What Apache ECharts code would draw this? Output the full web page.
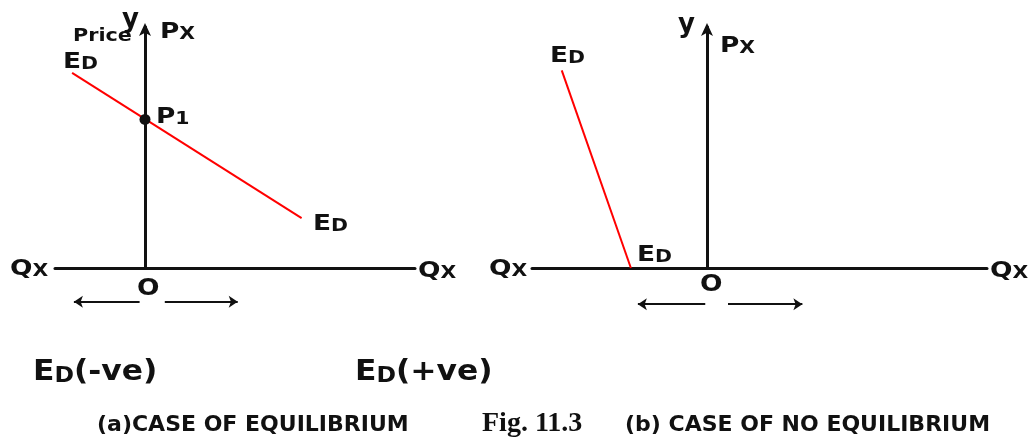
<!DOCTYPE html>
<html>
<head>
<meta charset="utf-8">
<script src="https://cdn.jsdelivr.net/npm/echarts@6/dist/echarts.min.js"></script>
<style>
  html, body { margin: 0; padding: 0; background: #fff; }
  #chart { width: 1032px; height: 443px; }
</style>
</head>
<body>
<div id="chart"></div>
<script>
// panel (a): demand line crossing the price axis
var leftDemand = [[-0.81, 2.43], [1.74, 0.62]];
var leftEquilibrium = [[0, 1.85]];
var leftArrows = [
    [[-0.06, -0.42], [-0.79, -0.42]],
    [[0.22, -0.42], [1.03, -0.42]]
];
// panel (b): demand line never reaching the price axis
var rightDemand = [[-1.66, 2.46], [-0.87, 0]];
var rightArrows = [
    [[-0.02, -0.45], [-0.79, -0.45]],
    [[0.24, -0.45], [1.09, -0.45]]
];

var FONT = '"DejaVu Sans"';

function axisX(idx, min, max) {
    return {
        type: 'value', gridIndex: idx, min: min, max: max,
        axisLine: { onZero: true, lineStyle: { color: '#111', width: 3 } },
        axisTick: { show: false }, axisLabel: { show: false }, splitLine: { show: false }
    };
}
function axisY(idx, min, max) {
    return {
        type: 'value', gridIndex: idx, min: min, max: max,
        axisLine: {
            onZero: true,
            symbol: ['none', 'arrow'],
            symbolSize: [9, 13],
            symbolOffset: [0, 4],
            lineStyle: { color: '#111', width: 3 }
        },
        axisTick: { show: false }, axisLabel: { show: false }, splitLine: { show: false }
    };
}

// letter with a smaller one at its foot (E with D), then optional full-size tail
function label(x, y, main, small, size, sx, tail) {
    size = size || 22;
    var txt = '{m|' + main + '}' + (small ? '{s|' + small + '}' : '') + (tail ? '{m|' + tail + '}' : '');
    return {
        type: 'text', x: x, y: y, scaleX: sx || 1.2,
        style: {
            text: txt,
            verticalAlign: 'top',
            rich: {
                m: { font: 'bold ' + size + 'px ' + FONT, fill: '#111', verticalAlign: 'bottom', lineHeight: size },
                s: { font: 'bold ' + Math.round(size * 0.75) + 'px ' + FONT, fill: '#111', verticalAlign: 'bottom', lineHeight: size }
            }
        }
    };
}
function plain(x, y, text, font, sx) {
    return {
        type: 'text', x: x, y: y, scaleX: sx || 1,
        style: { text: text, font: font, fill: '#111', verticalAlign: 'top' }
    };
}

function arrowSeries(idx, list) {
    return {
        type: 'lines', coordinateSystem: 'cartesian2d',
        xAxisIndex: idx, yAxisIndex: idx, clip: false,
        symbol: ['none', 'arrow'], symbolSize: 9,
        lineStyle: { color: '#111', width: 2, opacity: 1 },
        data: list.map(function (c) { return { coords: c }; }),
        silent: true
    };
}

var chart = echarts.init(document.getElementById('chart'));

var option = {
    backgroundColor: '#fff',
    animation: false,
    grid: [
        { left: 55, width: 360, top: 27, height: 241 },
        { left: 532, width: 455, top: 27, height: 241 }
    ],
    xAxis: [axisX(0, -1, 3), axisX(1, -2, 3.2)],
    yAxis: [axisY(0, 0, 3), axisY(1, 0, 3)],
    series: [
        {
            type: 'line', xAxisIndex: 0, yAxisIndex: 0, data: leftDemand,
            symbol: 'none', lineStyle: { color: '#ff0000', width: 2 }
        },
        {
            type: 'scatter', xAxisIndex: 0, yAxisIndex: 0, data: leftEquilibrium,
            symbolSize: 11, itemStyle: { color: '#111', opacity: 1 }, z: 5
        },
        {
            type: 'line', xAxisIndex: 1, yAxisIndex: 1, data: rightDemand,
            symbol: 'none', lineStyle: { color: '#ff0000', width: 2 }
        },
        arrowSeries(0, leftArrows),
        arrowSeries(1, rightArrows)
    ],
    graphic: [
        // panel (a)
        plain(122, 7, 'y', 'bold 26px ' + FONT),
        plain(73, 28, 'Price', 'bold 17px ' + FONT, 1.22),
        label(160, 21, 'P', 'X'),
        label(63, 51, 'E', 'D'),
        label(156, 106, 'P', '1'),
        label(313, 213, 'E', 'D'),
        label(10, 258, 'Q', 'X'),
        label(418, 260, 'Q', 'X'),
        label(137, 278, 'O', '', 23, 1.15),
        // panel (b)
        plain(678, 12, 'y', 'bold 26px ' + FONT),
        label(720, 35, 'P', 'X'),
        label(550, 45, 'E', 'D'),
        label(637, 244, 'E', 'D'),
        label(489, 258, 'Q', 'X'),
        label(990, 260, 'Q', 'X'),
        label(700, 274, 'O', '', 23, 1.15),
        // notes below the panels
        label(33, 359, 'E', 'D', 28, 1.12, '(-ve)'),
        label(355, 359, 'E', 'D', 28, 1.12, '(+ve)'),
        plain(97, 414, '(a)CASE OF EQUILIBRIUM', 'bold 22px ' + FONT),
        plain(482, 410, 'Fig. 11.3', 'bold 28px "Liberation Serif"'),
        plain(625, 414, '(b) CASE OF NO EQUILIBRIUM', 'bold 22px ' + FONT)
    ]
};

chart.setOption(option);
</script>
</body>
</html>
